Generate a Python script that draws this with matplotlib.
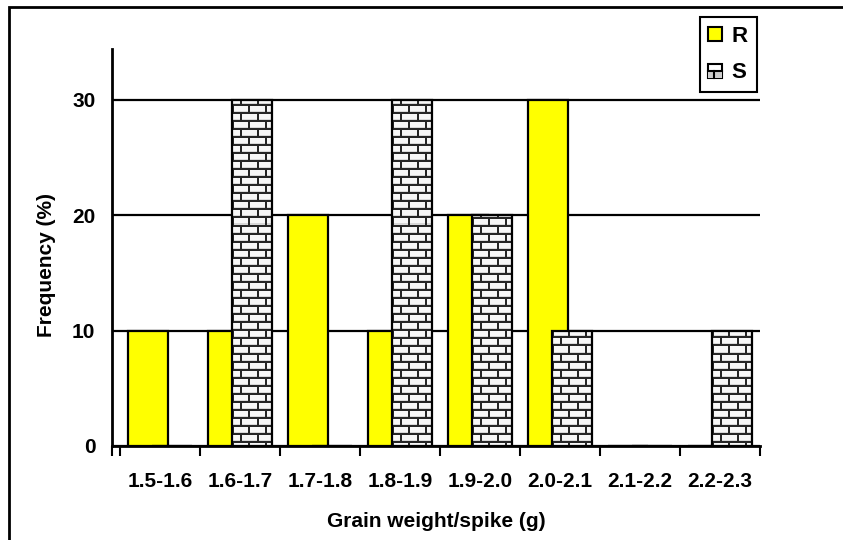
import numpy as np
import matplotlib
matplotlib.use("Agg")
import matplotlib.pyplot as plt
from matplotlib.patches import Rectangle, Patch
from matplotlib.lines import Line2D
from matplotlib.legend_handler import HandlerBase

# frequency (%) of lines per grain weight class
classes = ["1.5-1.6", "1.6-1.7", "1.7-1.8", "1.8-1.9",
           "1.9-2.0", "2.0-2.1", "2.1-2.2", "2.2-2.3"]
freq_r = [10, 10, 20, 10, 20, 30, 0, 0]
freq_s = [0, 30, 0, 30, 20, 10, 0, 10]
y_ticks = [0, 10, 20, 30]

plt.rcParams["font.family"] = ["Liberation Sans", "DejaVu Sans"]
plt.rcParams["font.weight"] = "bold"
FS = 15


def brick_texture(w, h, bw=16, bh=8, mortar=2):
    # light bricks with dark mortar, every other course shifted by half a brick
    yy, xx = np.mgrid[0:h, 0:w]
    row = yy // bh
    shift = (row % 2) * (bw // 2)
    horiz = (yy % bh) < mortar
    vert = ((xx + shift) % bw) < mortar
    img = np.full((h, w), 0.97)
    img[(yy % bh) == bh - 1] = 0.85
    img[horiz | vert] = 0.15
    return np.dstack([img, img, img])


class BrickHandler(HandlerBase):
    def create_artists(self, legend, orig_handle, xdescent, ydescent,
                       width, height, fontsize, trans):
        x0, y0 = -xdescent, -ydescent
        box = Rectangle((x0, y0), width, height, facecolor="white",
                        edgecolor="black", lw=1.5, transform=trans)
        low = Rectangle((x0, y0), width, height * 0.45, facecolor="#cccccc",
                        edgecolor="none", transform=trans)
        h = Line2D([x0, x0 + width], [y0 + height * 0.45] * 2,
                   color="black", lw=1.5, transform=trans)
        v = Line2D([x0 + width * 0.45] * 2, [y0, y0 + height * 0.45],
                   color="black", lw=1.5, transform=trans)
        return [box, low, h, v]


fig = plt.figure(figsize=(8.43, 5.40), dpi=100)
ax = fig.add_axes([0.1329, 0.1741, 0.7687, 0.7352])

x = np.arange(len(classes))
width = 0.5
xlim = (-0.6, len(classes) - 0.5)
ylim = (0, 34.4)

ax.bar(x - 0.15, freq_r, width, color="#ffff00", edgecolor="black",
       linewidth=1.6, zorder=2)
s_bars = ax.bar(x + 0.15, freq_s, width, facecolor="none", edgecolor="black",
                linewidth=1.6, zorder=4)

# brick fill for the S bars
bbox = ax.get_position()
tex = brick_texture(int(round(bbox.width * 843)), int(round(bbox.height * 540)))
for bar, val in zip(s_bars, freq_s):
    if val <= 0:
        continue
    im = ax.imshow(tex, extent=(*xlim, *ylim), aspect="auto",
                   interpolation="nearest", zorder=3, origin="upper")
    im.set_clip_path(bar)

ax.set_xlim(*xlim)
ax.set_ylim(*ylim)

# gridlines
ax.set_axisbelow(True)
ax.set_yticks(y_ticks)
ax.yaxis.grid(True, color="black", linewidth=1.6)
ax.tick_params(axis="y", length=0, pad=12, labelsize=FS)

# category boundaries as ticks, names centred in between
ax.set_xticks([xlim[0]] + list(np.arange(len(classes) + 1) - 0.5))
ax.set_xticklabels([])
ax.set_xticks(x, minor=True)
ax.set_xticklabels(classes, minor=True)
ax.tick_params(axis="x", which="major", length=7, width=1.5, direction="out")
ax.tick_params(axis="x", which="minor", length=0, pad=19, labelsize=FS)

for side in ["top", "right"]:
    ax.spines[side].set_visible(False)
for side in ["left", "bottom"]:
    ax.spines[side].set_linewidth(2)

ax.set_xlabel("Grain weight/spike (g)", fontsize=FS, fontweight="bold")
ax.xaxis.label.set_va("center")
ax.xaxis.set_label_coords(0.5, -0.189)
fig.text(0.055, 0.509, "Frequency (%)", rotation=90, ha="center", va="center",
         fontsize=FS, fontweight="bold")

handles = [Patch(facecolor="#ffff00", edgecolor="black", linewidth=1.5),
           Patch(facecolor="white", edgecolor="black")]
leg = ax.legend(handles, ["R", "S"], loc="upper right",
                bbox_to_anchor=(0.995, 1.0806), borderaxespad=0,
                fontsize=FS + 1, handlelength=0.6, handleheight=0.6,
                handletextpad=0.45, labelspacing=0.7, borderpad=0.4,
                fancybox=False, framealpha=1,
                handler_map={handles[1]: BrickHandler()})
leg.get_frame().set_edgecolor("black")
leg.get_frame().set_linewidth(1.5)
leg.set_zorder(6)

# outer chart frame
fig.patches.append(Rectangle((0.0107, -0.2), 1.2, 1.187, transform=fig.transFigure,
                             fill=False, edgecolor="black", linewidth=2))

fig.savefig("out.png", dpi=100)
